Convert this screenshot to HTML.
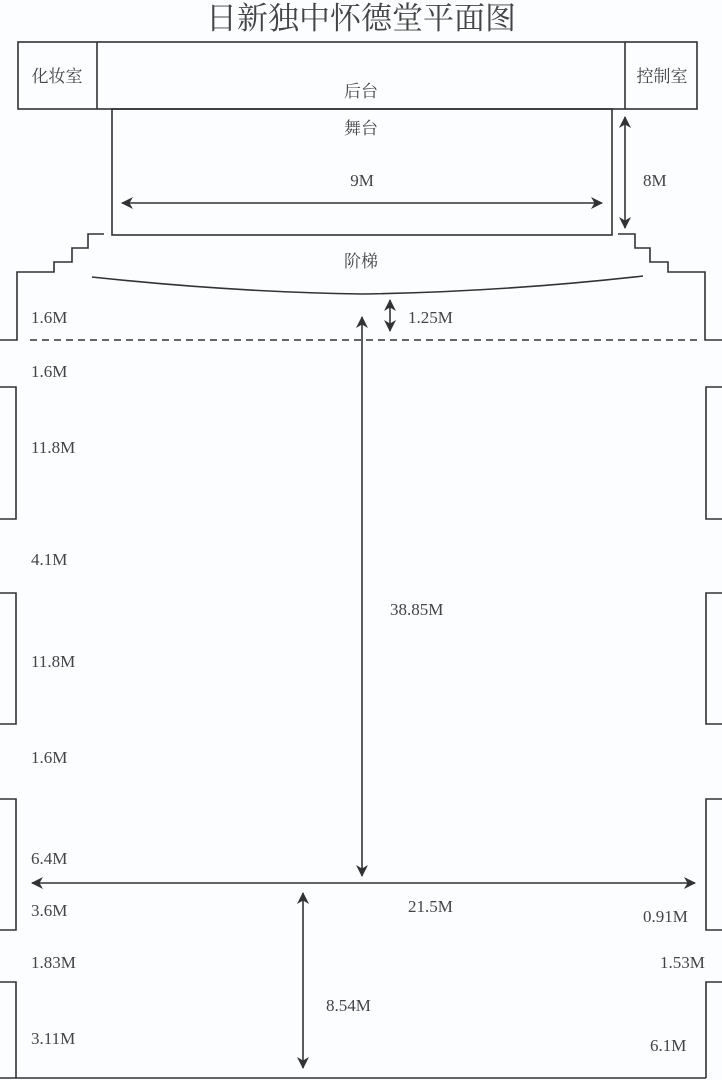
<!DOCTYPE html>
<html><head><meta charset="utf-8"><style>
body{margin:0;background:#fcfdfe;}
svg{display:block}
text{font-family:"Liberation Serif","Noto Serif CJK SC",serif;fill:#444;font-size:17px}
.c{font-family:"Liberation Serif","Noto Serif CJK SC",serif;font-size:17px}
</style></head><body>
<svg width="722" height="1080" viewBox="0 0 722 1080">
<defs><marker id="a" markerWidth="12" markerHeight="12" refX="11" refY="6" orient="auto-start-reverse" markerUnits="userSpaceOnUse"><path d="M0,0 L12,6 L0,12 L3.5,6z" fill="#333"/></marker></defs>
<g fill="none" stroke="#333" stroke-width="1.6">
<rect x="18" y="42" width="679" height="67"/>
<line x1="97" y1="42" x2="97" y2="109"/><line x1="625" y1="42" x2="625" y2="109"/>
<rect x="112" y="109" width="500" height="126"/>
<polyline points="104,234 88,234 88,248 72,248 72,262 54,262 54,272 17,272 17,340 0,340"/>
<polyline points="618,234 635,234 635,248 650,248 650,262 668,262 668,272 705,272 705,340 722,340"/>
<path d="M92,277 Q230,292 362,294 Q500,292 643,276"/>
<line x1="30" y1="340" x2="697" y2="340" stroke-dasharray="7,5"/>
<line x1="0" y1="1078" x2="706" y2="1078"/>
<polyline points="0,387 16,387 16,519 0,519"/><polyline points="0,593 16,593 16,724 0,724"/><polyline points="0,799 16,799 16,930 0,930"/><polyline points="0,982 16,982 16,1078"/>
<polyline points="722,387 706,387 706,519 722,519"/><polyline points="722,593 706,593 706,724 722,724"/><polyline points="722,799 706,799 706,930 722,930"/><polyline points="722,982 706,982 706,1078"/>
<line x1="122" y1="203" x2="602" y2="203" marker-start="url(#a)" marker-end="url(#a)"/>
<line x1="625" y1="117" x2="625" y2="228" marker-start="url(#a)" marker-end="url(#a)"/>
<line x1="390" y1="300" x2="390" y2="331" marker-start="url(#a)" marker-end="url(#a)"/>
<line x1="362" y1="317" x2="362" y2="876" marker-start="url(#a)" marker-end="url(#a)"/>
<line x1="32" y1="883" x2="695" y2="883" marker-start="url(#a)" marker-end="url(#a)"/>
<line x1="303" y1="893" x2="303" y2="1068" marker-start="url(#a)" marker-end="url(#a)"/>
</g>
<text class="c" x="361" y="29" text-anchor="middle" style="font-size:31px">日新独中怀德堂平面图</text>
<text class="c" x="57" y="82" text-anchor="middle">化妆室</text>
<text class="c" x="662" y="82" text-anchor="middle">控制室</text>
<text class="c" x="361" y="97" text-anchor="middle">后台</text>
<text class="c" x="361" y="134" text-anchor="middle">舞台</text>
<text class="c" x="361" y="267" text-anchor="middle">阶梯</text>
<text x="362" y="186" text-anchor="middle">9M</text>
<text x="643" y="186">8M</text>
<text x="408" y="323">1.25M</text>
<text x="31" y="323">1.6M</text>
<text x="31" y="377">1.6M</text>
<text x="31" y="453">11.8M</text>
<text x="31" y="565">4.1M</text>
<text x="31" y="667">11.8M</text>
<text x="31" y="763">1.6M</text>
<text x="31" y="864">6.4M</text>
<text x="31" y="916">3.6M</text>
<text x="31" y="968">1.83M</text>
<text x="31" y="1044">3.11M</text>
<text x="390" y="615">38.85M</text>
<text x="408" y="912">21.5M</text>
<text x="326" y="1011">8.54M</text>
<text x="643" y="922">0.91M</text>
<text x="660" y="968">1.53M</text>
<text x="650" y="1051">6.1M</text>
</svg>
</body></html>
